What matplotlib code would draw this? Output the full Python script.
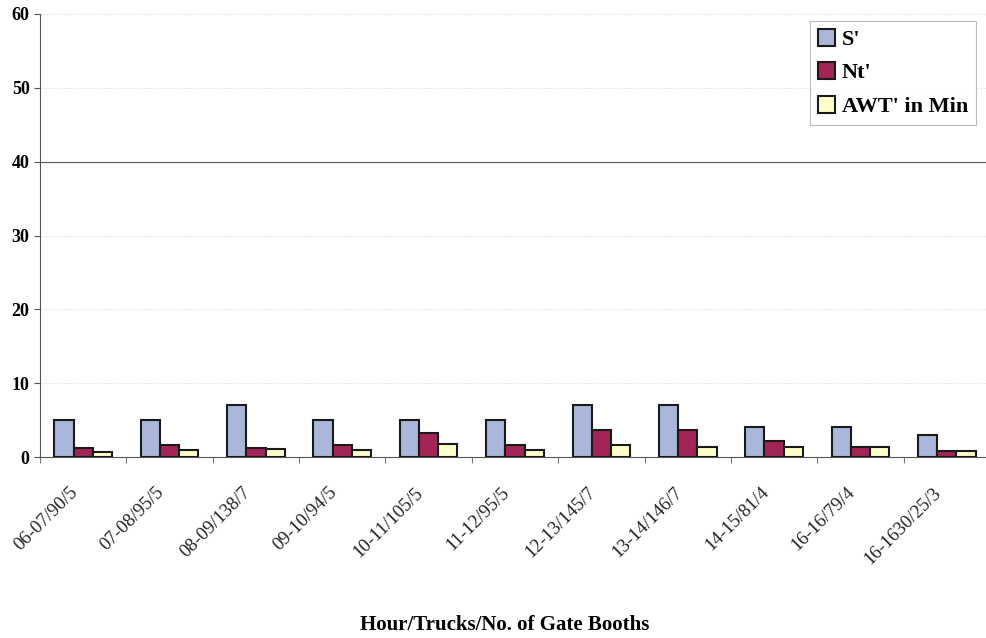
import matplotlib
matplotlib.use("Agg")
import matplotlib.pyplot as plt
import matplotlib.transforms as mtransforms
import numpy as np

categories = ["06-07/90/5", "07-08/95/5", "08-09/138/7", "09-10/94/5", "10-11/105/5",
              "11-12/95/5", "12-13/145/7", "13-14/146/7", "14-15/81/4", "16-16/79/4",
              "16-1630/25/3"]
s_prime = [5, 5, 7, 5, 5, 5, 7, 7, 4, 4, 3]
nt_prime = [1.2, 1.6, 1.2, 1.6, 3.2, 1.6, 3.6, 3.6, 2.2, 1.4, 0.8]
awt_min = [0.7, 1.0, 1.1, 1.0, 1.7, 1.0, 1.6, 1.3, 1.4, 1.3, 0.8]

series_names = ["S'", "Nt'", "AWT' in Min"]
colors = ["#AAB6DA", "#A32456", "#FFFFCC"]

plt.rcParams['font.family'] = ['Liberation Serif', 'DejaVu Serif']

W, H = 986, 638
fig = plt.figure(figsize=(W / 100, H / 100), dpi=100)
ax = fig.add_axes([40 / W, 1 - 457 / H, 950 / W, (457 - 14) / H])

x = np.arange(len(categories))
w = 1 / 4.5
for i, (vals, c, name) in enumerate(zip([s_prime, nt_prime, awt_min], colors, series_names)):
    ax.bar(x - w + i * w, vals, width=w, color=c, edgecolor="#1a1a1a",
           linewidth=1.5, label=name, zorder=3)

ax.set_xlim(-0.5, len(categories) - 0.5)
ax.set_ylim(0, 60)
ax.set_yticks(range(0, 61, 10))
for yv in range(10, 61, 10):
    ax.axhline(yv, color="#555555" if yv == 40 else "#dddddd",
               linewidth=0.8 if yv == 40 else 0.6,
               linestyle="-" if yv == 40 else (0, (2, 2)), zorder=1)

# Category labels: slanted text ending just left of each group centre
ax.set_xticks(np.arange(len(categories) + 1) - 0.5)
ax.set_xticklabels([])
ax.tick_params(axis="x", length=4, color="#777777")
label_tf = ax.get_xaxis_transform() + mtransforms.ScaledTranslation(
    -8 / 100, -33 / 100, fig.dpi_scale_trans)
for xi, cat in zip(x, categories):
    ax.text(xi, 0, cat, transform=label_tf, rotation=45, ha="right", va="center",
            rotation_mode="anchor", fontsize=13.5, color="#222222")

ax.tick_params(axis="y", length=4, color="#555555", labelsize=13)
for lab in ax.get_yticklabels():
    lab.set_fontweight("bold")

for side in ["top", "right"]:
    ax.spines[side].set_visible(False)
ax.spines["left"].set_color("#555555")
ax.spines["bottom"].set_color("#555555")

fig.text(505 / W, 1 - 625 / H, "Hour/Trucks/No. of Gate Booths", fontsize=15,
         fontweight="bold", ha="center", va="center")

leg = fig.legend(loc="upper right", bbox_to_anchor=(976 / W, 1 - 21 / H),
                 frameon=True, fancybox=False, edgecolor="#aaaaaa",
                 prop={"weight": "bold", "size": 16}, handlelength=0.8,
                 handleheight=0.8, handletextpad=0.3, labelspacing=0.55,
                 borderpad=0.35, borderaxespad=0)
leg.get_frame().set_linewidth(0.8)

fig.savefig("out.png", dpi=100, facecolor="white")
